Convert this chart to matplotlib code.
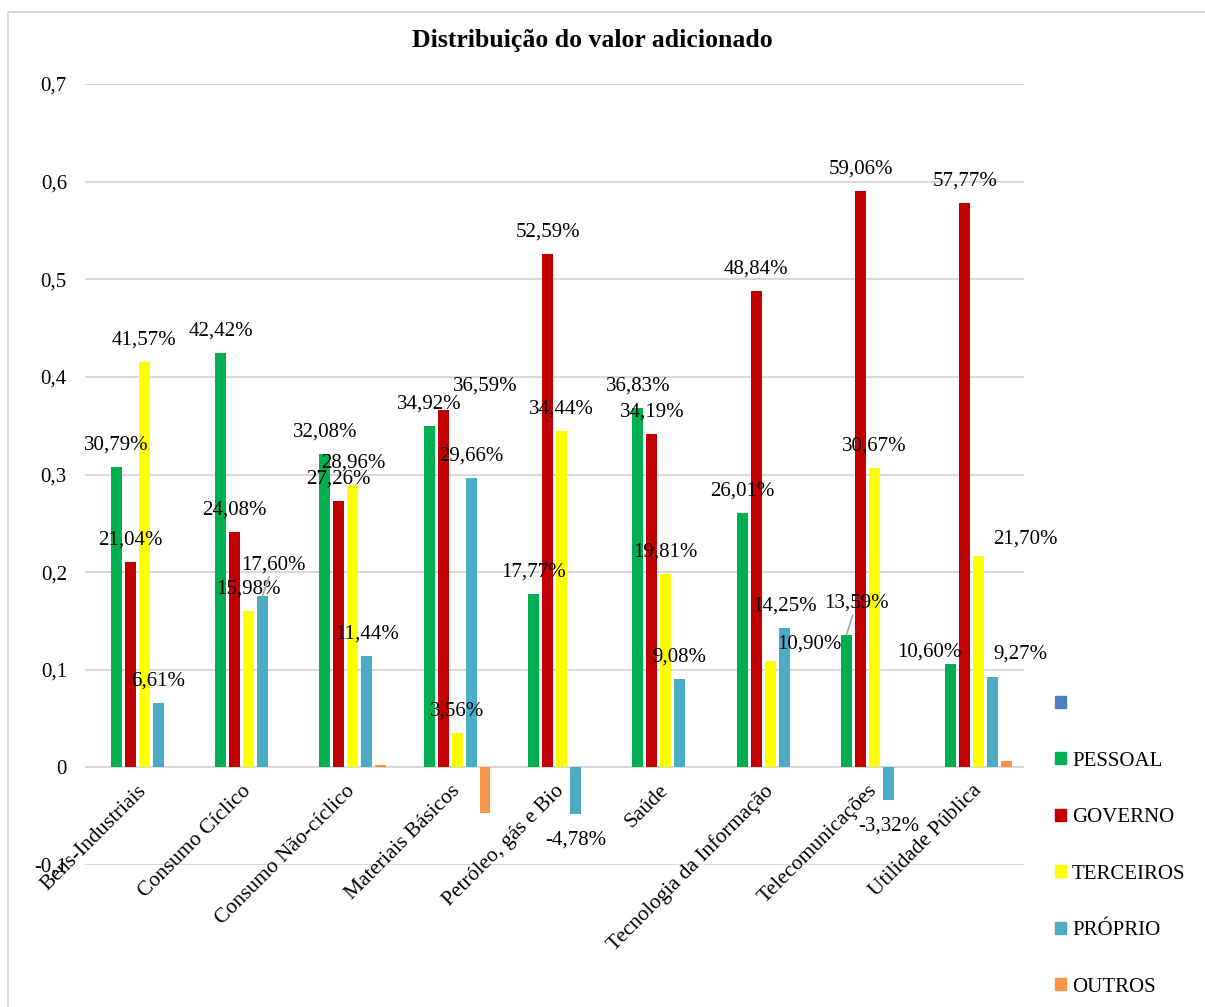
import matplotlib
matplotlib.use("Agg")
from matplotlib import pyplot as plt
from matplotlib.patches import Rectangle
from matplotlib.ticker import FixedLocator
import numpy as np

plt.rcParams['font.family'] = ['Liberation Serif', 'DejaVu Serif']

# data
categories = ["Bens-Industriais", "Consumo Cíclico", "Consumo Não-cíclico",
              "Materiais Básicos", "Petróleo, gás e Bio", "Saúde",
              "Tecnologia da Informação", "Telecomunicações", "Utilidade Pública"]
series_names = ["PESSOAL", "GOVERNO", "TERCEIROS", "PRÓPRIO", "OUTROS"]
pessoal = [0.3079, 0.4242, 0.3208, 0.3492, 0.1777, 0.3683, 0.2601, 0.1359, 0.1060]
governo = [0.2104, 0.2408, 0.2726, 0.3659, 0.5259, 0.3419, 0.4884, 0.5906, 0.5777]
terceiros = [0.4157, 0.1598, 0.2896, 0.0356, 0.3444, 0.1981, 0.1090, 0.3067, 0.2170]
proprio = [0.0661, 0.1760, 0.1144, 0.2966, -0.0478, 0.0908, 0.1425, -0.0332, 0.0927]
outros = [0.0, 0.0, 0.0025, -0.0466, 0.0, 0.0, 0.0, 0.0, 0.0068]
yticks = [-0.1, 0.0, 0.1, 0.2, 0.3, 0.4, 0.5, 0.6, 0.7]
ytick_labels = ["-0,1", "0", "0,1", "0,2", "0,3", "0,4", "0,5", "0,6", "0,7"]

colors = ["#00B050", "#C00000", "#FFFF00", "#4BACC6", "#F79646"]
blank_color = "#4F81BD"

# label offsets in pixels for the labels excel pushed around (series, category)
label_moves = {
    (3, 1): (11, 31),
    (1, 3): (42, 24),
    (2, 6): (39, 17),
    (0, 7): (10, 32),
    (0, 8): (-22, 12),
    (2, 8): (47, 16),
    (3, 8): (28, 23),
}
leader_lines = [(3, 1), (0, 7)]

fig = plt.figure(figsize=(12.05, 10.07), dpi=100)
fig.patches.append(Rectangle((8 / 1205, -0.01), 1.2, 1 - 12 / 1007 + 0.01,
                             transform=fig.transFigure, fill=False,
                             edgecolor="#d9d9d9", linewidth=1.5))
ax = fig.add_axes([85 / 1205, 1 - 865 / 1007, (1024 - 85) / 1205, (865 - 84) / 1007])

x = np.arange(len(categories))
slot = 0.134
width = 0.103
all_series = [pessoal, governo, terceiros, proprio, outros]

for j, vals in enumerate(all_series):
    pos = x + (j + 1 - 2.5) * slot
    ax.bar(pos, vals, width, color=colors[j], linewidth=0,
           label=series_names[j], zorder=3)
    if j == 4:
        continue  # no labels on OUTROS
    for i, v in enumerate(vals):
        dx, dy = label_moves.get((j, i), (0, 22 if v >= 0 else -26))
        txt = f"{v * 100:.2f}%".replace(".", ",")
        props = None
        if (j, i) in leader_lines:
            props = dict(arrowstyle="-", color="#a6a6a6", lw=1.2,
                         shrinkA=0, shrinkB=0)
        ax.annotate(txt, xy=(pos[i], v), xytext=(dx, dy), textcoords="offset pixels",
                    ha="center", va="center", fontsize=15, color="black",
                    arrowprops=props, zorder=5)

ax.set_xlim(-0.5, len(categories) - 0.5)
ax.set_ylim(-0.1, 0.7)
ax.yaxis.set_major_locator(FixedLocator(yticks))
ax.set_yticklabels(ytick_labels, fontsize=15)
ax.tick_params(axis="y", length=0, pad=13)
ax.set_xticks([])
ax.grid(axis="y", color="#d9d9d9", linewidth=1.5, zorder=0)
for s in ax.spines.values():
    s.set_visible(False)
ax.axhline(0, color="#d9d9d9", linewidth=1.5, zorder=1)

# category labels sit on the zero line, like excel does
for i, name in enumerate(categories):
    ax.annotate(name, xy=(i, 0), xytext=(0, -14), textcoords="offset pixels",
                rotation=45, ha="right", va="top", rotation_mode="anchor",
                fontsize=15.5, color="black")

fig.text(592 / 1205, 1 - 40 / 1007, "Distribuição do valor adicionado",
         ha="center", va="center", fontsize=18.5, fontweight="bold")

handles = [Rectangle((0, 0), 1, 1, color=blank_color)]
handles += [Rectangle((0, 0), 1, 1, color=c) for c in colors]
labels = [""] + series_names
fig.legend(handles, labels, loc="center left", bbox_to_anchor=(1055 / 1205, 1 - 846 / 1007),
           frameon=False, fontsize=15, handlelength=0.52, handleheight=0.52,
           handletextpad=0.3, labelspacing=1.8, borderpad=0, borderaxespad=0)

fig.savefig("out.png", dpi=100)
